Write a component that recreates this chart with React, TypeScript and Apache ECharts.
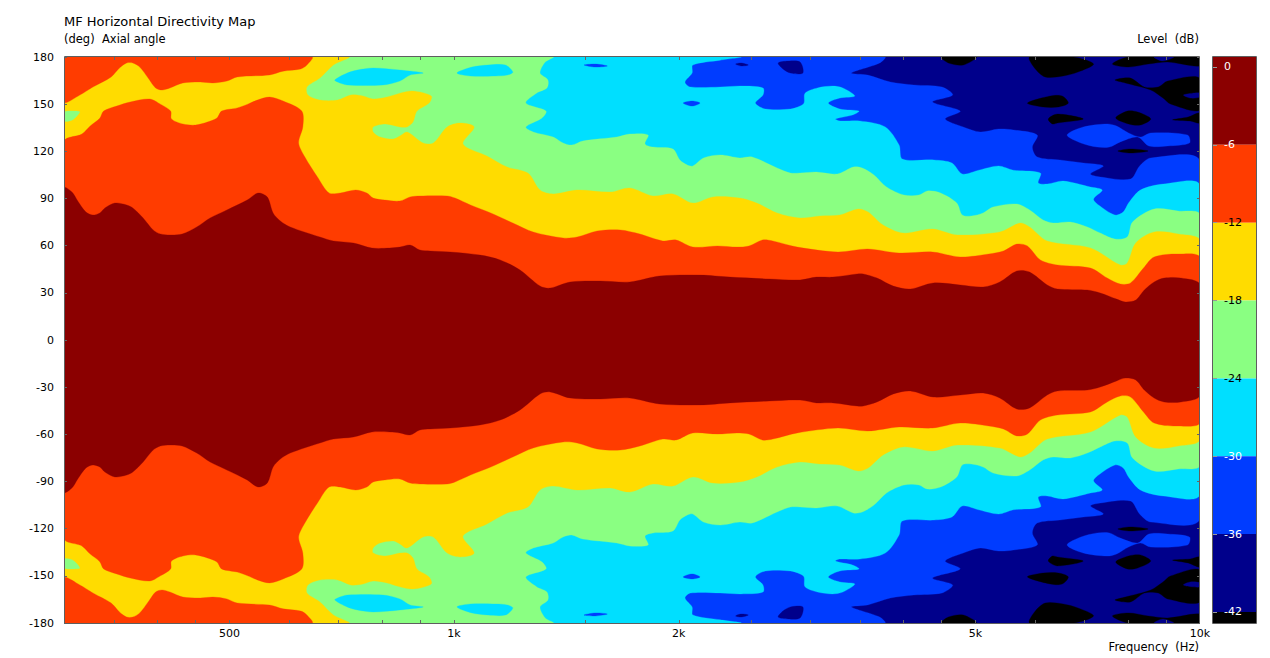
import React, { useEffect, useRef } from "react";
import * as echarts from "echarts";

type P = [number, number];

const C_RED = "#8b0000", C_ORANGE = "#ff3c00", C_GOLD = "#ffdc00", C_GREEN = "#8aff82",
  C_CYAN = "#00dfff", C_BLUE = "#003cff", C_NAVY = "#00008b", C_BLACK = "#000000";

const FONT = '"DejaVu Sans"';
const ANGLE_MIN = -180, ANGLE_MAX = 180;
const FREQ_MIN = 300, FREQ_MAX = 10000;

const freqTicks = [350, 400, 450, 500, 600, 700, 800, 900, 1000, 1500, 2000, 2500, 3000, 3500, 4000, 4500, 5000, 6000, 7000, 8000, 9000];
const freqLabelValues = [500, 1000, 2000, 5000, 10000];
const freqLabelTexts = ["500", "1k", "2k", "5k", "10k"];

const levelTicks = [0, -6, -12, -18, -24, -30, -36, -42];
const barLevels = [0.77, -6, -12, -18, -24, -30, -36, -42, -42.85];
const barColors = [C_RED, C_ORANGE, C_GOLD, C_GREEN, C_CYAN, C_BLUE, C_NAVY, C_BLACK];

// Contours of the upper half (Hz, degrees); the map is mirrored about 0 degrees.
const contour6: P[] = [[300,96.7],[307.5,94.1],[313,88.4],[321,81.4],[328,79.5],[335,80.8],[340.4,84],[351,87.1],[364,85.9],[371,84],[383,77.6],[395,70],[404,67.4],[416,66.8],[432,67.4],[452,71.9],[471,77.6],[496,82.7],[528,89],[546,93.5],[562,90.9],[572,80.8],[585,75.7],[603,71.9],[661,65.5],[689,63],[733,61.7],[776,58.5],[820,58.5],[846,59.1],[873,60.4],[900,57.2],[929,56.6],[988,56],[1084,54],[1153,50.9],[1226,44.5],[1304,34.3],[1345,33],[1431,36.9],[1570,37.5],[1720,36.9],[1885,40.7],[2137,41.3],[2344,40],[2646,38.8],[2910,38.2],[3060,40],[3220,40],[3470,42],[3536,42],[3690,39.4],[3880,34.3],[4090,32.4],[4390,36.3],[4770,35],[5120,33.7],[5390,36.9],[5680,43.9],[5910,43.2],[6240,35],[6440,32.4],[7060,31.8],[7350,29.9],[7730,26],[7940,24.2],[8200,25.4],[8420,31.8],[8680,36.9],[8950,39.4],[9430,39.4],[10000,35]];

const contour12: P[] = [[300,126],[317,131],[325,136],[335,141],[339,145.6],[353,148.8],[368,151.4],[391,153.3],[404,150],[417,145.6],[418,140.6],[433,137.4],[450,136.7],[467,138.6],[481,141.2],[488,145.6],[512,147.6],[529,150],[545,152.6],[566,154.5],[590,152],[625,145.6],[627,135.5],[619,125.3],[631,116.4],[656,103.7],[680,93.5],[704,93.5],[738,95.4],[764,93.5],[779,90.3],[808,89],[846,88.4],[873,91],[900,91.6],[979,91.6],[1003,90.3],[1052,85.9],[1120,80.8],[1199,74.4],[1277,68.7],[1400,64.9],[1462,65.5],[1555,69.3],[1670,70],[1775,67.4],[1905,63],[1985,63.6],[2090,59.1],[2255,59.8],[2395,59.1],[2485,59.8],[2590,63.6],[2675,63],[2885,59.1],[3270,56],[3585,57.9],[3950,55.3],[4380,56],[4770,52.8],[5210,54.7],[5450,56.6],[5680,61],[5870,59.8],[6110,50.9],[6440,47.7],[7130,45.8],[7510,39.4],[7820,35.6],[8070,36.3],[8400,45.8],[8680,52.8],[9350,54.7],[10000,52.2]];

const rearLobe12: P[] = [[300,180],[300,151.4],[315,155.8],[328,160.9],[347,167.3],[356,173],[364,176.2],[371,176.2],[379,173.6],[389,166.6],[398,160.3],[406,159],[416,160.3],[433,163.5],[457,164.1],[475,163.5],[496,164.7],[512,167.3],[566,168.6],[590,171],[623,172.4],[635,174.9],[645,180]];

const contour18: P[] = [[300,180],[722,180],[689,174.9],[661,166.6],[635,160.9],[637,155.8],[661,152.6],[698,152.6],[727,155.8],[755,155.2],[779,153.3],[813,154.5],[846,157],[881,158.4],[932,155.2],[926,150.7],[892,145.6],[881,138.6],[865,135.5],[846,135.5],[809,137.4],[779,135.5],[779,132.3],[796,129.1],[829,127.8],[846,129.7],[865,132.3],[909,125.3],[938,125.3],[979,135.5],[1019,138],[1064,135.5],[1028,124.7],[1107,117],[1178,110],[1256,106.2],[1304,95.4],[1358,92.9],[1462,95.4],[1620,94.1],[1720,96.7],[1848,91.6],[1965,92.9],[2090,87.1],[2225,91],[2415,90.3],[2545,87.1],[2710,80.8],[2910,77.6],[3095,78.9],[3290,79.5],[3480,83.3],[3590,81.4],[3760,73.1],[4000,68],[4380,70.6],[4730,66.8],[5390,68.7],[5740,74.4],[5910,71.9],[6240,63],[7130,58.5],[7820,47.7],[7990,49],[8200,61.7],[8680,68.7],[9350,67.4],[10000,63]];

const greenIslet: P[] = [[300,145],[310,145.6],[315,145],[308,140],[300,139.3]];

const contour24: P[] = [[300,180],[1358,180],[1325,176.8],[1304,169.8],[1336,165.4],[1332,160.3],[1291,157.1],[1248,150.7],[1328,145.6],[1312,141.2],[1248,135.5],[1277,132.3],[1358,129.1],[1400,125.3],[1438,124],[1488,126.6],[1653,129.1],[1720,131],[1820,130.4],[1803,124.7],[1848,122.7],[1965,121.5],[2008,114.5],[2055,111.3],[2090,110.7],[2160,115.8],[2275,117.7],[2415,115.8],[2510,116.4],[2710,109.4],[2825,106.2],[2910,106.2],[3060,106.8],[3265,105.6],[3430,110],[3525,109.4],[3655,105],[3800,97.3],[4010,92.2],[4200,92.2],[4310,94.8],[4490,93.5],[4720,87.1],[4800,79.5],[4940,78.9],[5120,80.8],[5280,84.6],[5680,86.5],[5910,82.7],[6160,76.3],[6360,74.4],[6700,75],[7060,71.9],[7350,68],[7690,64.2],[7990,65.5],[8120,75],[8680,83.3],[9350,82],[10000,79.5]];

const cyanIsland1: P[] = [[692,165.4],[719,169.8],[742,171.7],[779,173],[846,171.7],[909,169.8],[873,168.5],[846,164.7],[803,162.2],[719,162.2],[698,164.1]];
const cyanIsland2: P[] = [[1009,169.8],[1057,173.6],[1110,174.9],[1172,174.9],[1199,170.4],[1178,168.5],[1137,167.9],[1052,167.9]];

const contour30: P[] = [[300,180],[2420,180],[2275,178],[2090,174.9],[2085,169.8],[2040,164.1],[2075,160.9],[2275,160.9],[2425,161.5],[2595,160.3],[2595,155.8],[2535,150.7],[2615,146.9],[2825,146.9],[2910,148.8],[2946,150.7],[2955,157],[3070,160.3],[3215,161.5],[3320,160.3],[3445,155.2],[3290,153.9],[3175,150.7],[3290,146.9],[3490,145.6],[3420,143.1],[3245,140.6],[3290,139.3],[3500,139.3],[3785,135.5],[3950,124],[3990,115.1],[4400,114.5],[4650,112.6],[4800,105.6],[5050,108],[5370,110.7],[5620,108],[6110,106.2],[6070,99.9],[6240,99.2],[6555,101.1],[7130,97.3],[7395,95.4],[7200,89.7],[7310,85.9],[7690,79.5],[7890,81.4],[8020,87.1],[8320,95.4],[8930,99.2],[10000,98]];

const blueIsland1: P[] = [[1494,174.9],[1547,175.5],[1605,174.3],[1547,173.6]];
const blueIsland2: P[] = [[2028,150.7],[2085,152],[2137,150.7],[2085,148.8]];

const contour36: P[] = [[300,180],[3780,180],[3720,176.2],[3410,169.8],[3585,168.5],[3845,164.1],[4135,162.2],[4510,160.9],[4660,155.8],[4380,151.4],[4770,145.6],[4555,140.6],[4815,135.5],[5075,132.3],[5370,134.2],[5620,133.6],[6050,130.4],[5960,122.7],[6050,116.4],[6490,114.5],[6975,112.6],[7420,110.7],[7130,105.6],[7350,103.7],[8070,102.4],[8300,110.7],[8590,115.8],[10000,113.2]];

const navyIsland1: P[] = [[2720,176.2],[2805,177.4],[2910,176.8],[2935,169.8],[2825,169.8],[2760,172.4]];
const navyIsland2: P[] = [[2385,175.5],[2425,176.2],[2480,174.9],[2425,174.3]];
const navyOnBlack1: P[] = [[8680,180],[8920,177.4],[9220,180]];
const navyOnBlack2: P[] = [[9500,155.8],[9770,157],[10000,157],[10000,154.5],[9700,153.9]];
const blueIsland3: P[] = [[6635,130.4],[6975,135.5],[7510,137.4],[7730,136.1],[8020,131.7],[8320,129.1],[8590,131.7],[9620,130.4],[9680,125.3],[9050,123.4],[8540,123.4],[8250,129.1],[7820,126],[7560,122.7],[7280,122.7],[6925,125.3]];

const blackA: P[] = [[4500,180],[4600,176.2],[4815,174.9],[5015,180]];
const blackB: P[] = [[5910,180],[6000,173],[6200,167.3],[6555,167.9],[6860,170.4],[7200,175.5],[6770,180]];
const blackC: P[] = [[7630,175.5],[8020,180],[10000,180],[10000,174.3],[9050,176.8],[8520,175.5],[8020,173.6]];
const blackD: P[] = [[7690,165.4],[8070,166.6],[8420,160.9],[8790,160.9],[9050,164.7],[10000,166.6],[10000,146.3],[9130,150.1],[8920,153.9],[8590,159],[7940,163.5]];
const blackE: P[] = [[5870,150.7],[6300,155.2],[6535,155.2],[6660,150.7],[6460,148.2],[6160,148.2]];
const blackF: P[] = [[6260,140.6],[6440,143.7],[6975,140.6],[6440,138],[6340,137.4]];
const blackG: P[] = [[7710,141.2],[7990,145.6],[8250,145],[8590,140.6],[8320,136.7],[8020,137.4]];
const blackH: P[] = [[9190,140],[9640,141.8],[10000,144.4],[10000,138],[9700,139.3]];
const blackI: P[] = [[7760,120.2],[8070,121.5],[8520,120.2],[8070,118.9]];

const fullPlot: P[] = [[300,180],[10000,180]];

// A band: the contour, then its mirror image walked back, so that it spans 0 degrees.
const band = (path: P[], color: string) => ({
  color,
  pts: [...path, ...path.slice().reverse().map(([f, a]) => [f, -a] as P)],
});
// An island: one polygon above 0 degrees and its mirror image below.
const islands = (path: P[], color: string) => [
  { color, pts: path },
  { color, pts: path.map(([f, a]) => [f, -a] as P) },
];

const regions = [
  band(fullPlot, C_NAVY),
  ...[blackA, blackB, blackC, blackD, blackE, blackF, blackG, blackH, blackI].flatMap((p) => islands(p, C_BLACK)),
  ...[navyOnBlack1, navyOnBlack2].flatMap((p) => islands(p, C_NAVY)),
  band(contour36, C_BLUE),
  ...[navyIsland1, navyIsland2].flatMap((p) => islands(p, C_NAVY)),
  ...islands(blueIsland3, C_BLUE),
  band(contour30, C_CYAN),
  ...[blueIsland1, blueIsland2].flatMap((p) => islands(p, C_BLUE)),
  band(contour24, C_GREEN),
  ...[cyanIsland1, cyanIsland2].flatMap((p) => islands(p, C_CYAN)),
  band(contour18, C_GOLD),
  ...islands(greenIslet, C_GREEN),
  band(contour12, C_ORANGE),
  ...islands(rearLobe12, C_ORANGE),
  band(contour6, C_RED),
];

export default function App() {
  const ref = useRef<HTMLDivElement>(null);
  useEffect(() => {
    const chart = echarts.init(ref.current!, undefined, { renderer: "svg" });
    const txt = (x: number, y: number, text: string, size: number, align = "left") => ({
      type: "text", x, y, silent: true, z: 100,
      style: { text, fill: "#000", font: `${size}px ${FONT}`, align, verticalAlign: "middle" },
    });
    chart.setOption({
      animation: false,
      backgroundColor: "#ffffff",
      textStyle: { fontFamily: FONT },
      grid: [
        { left: 64, top: 57, width: 1136, height: 566 },
        { left: 1213, top: 57, width: 43, height: 566 },
      ],
      xAxis: [
        { type: "log", logBase: 10, gridIndex: 0, min: FREQ_MIN, max: FREQ_MAX, axisLine: { show: false }, axisTick: { show: false }, axisLabel: { show: false }, splitLine: { show: false }, minorTick: { show: false }, minorSplitLine: { show: false } },
        { type: "value", gridIndex: 1, min: 0, max: 1, show: false },
      ],
      yAxis: [
        {
          type: "value", gridIndex: 0, min: ANGLE_MIN, max: ANGLE_MAX, interval: 30, z: 10,
          axisLine: { show: false },
          axisTick: { show: true, inside: true, length: 3, lineStyle: { color: "#666" } },
          axisLabel: { color: "#000", fontSize: 11, fontFamily: FONT, margin: 10 },
          splitLine: { show: false },
        },
        {
          type: "value", gridIndex: 0, position: "right", min: ANGLE_MIN, max: ANGLE_MAX, interval: 30, z: 10,
          axisLine: { show: false },
          axisTick: { show: true, inside: true, length: 3, lineStyle: { color: "#666" } },
          axisLabel: { show: false },
          splitLine: { show: false },
        },
        {
          type: "value", gridIndex: 1, min: barLevels[barLevels.length - 1], max: barLevels[0], z: 10,
          axisLine: { show: false },
          axisTick: { show: true, inside: true, length: 4, customValues: levelTicks, lineStyle: { color: "#999" } },
          axisLabel: {
            show: true, inside: true, margin: 11, customValues: levelTicks, align: "left", fontSize: 11, fontFamily: FONT,
            color: (v: any) => (Number(v) <= -12 && Number(v) >= -24 ? "#000" : "#fff"),
          },
          splitLine: { show: false },
        },
      ],
      series: [
        {
          type: "custom", xAxisIndex: 0, yAxisIndex: 0, clip: true, silent: true, z: 2,
          data: regions.map((r) => r.pts[0]),
          renderItem: (params: any, api: any) => {
            const r = regions[params.dataIndex];
            return {
              type: "polygon",
              shape: { points: r.pts.map((p) => api.coord(p)), smooth: 0.3 },
              style: { fill: r.color, stroke: r.color, lineWidth: 0.3 },
            };
          },
        },
        {
          type: "custom", xAxisIndex: 0, yAxisIndex: 0, silent: true, z: 5,
          data: freqTicks.map((f) => [f, ANGLE_MAX]),
          renderItem: (_p: any, api: any) => {
            const t = api.coord([api.value(0), ANGLE_MAX]);
            const b = api.coord([api.value(0), ANGLE_MIN]);
            const st = { stroke: "#666", lineWidth: 1 };
            const x = Math.round(t[0]) + 0.5;
            return {
              type: "group",
              children: [
                { type: "line", shape: { x1: x, y1: t[1], x2: x, y2: t[1] + 3 }, style: st },
                { type: "line", shape: { x1: x, y1: b[1], x2: x, y2: b[1] - 3 }, style: st },
              ],
            };
          },
        },
        {
          type: "custom", xAxisIndex: 0, yAxisIndex: 0, silent: true, z: 5,
          data: freqLabelValues.map((f) => [f, ANGLE_MIN]),
          renderItem: (params: any, api: any) => {
            const b = api.coord([api.value(0), ANGLE_MIN]);
            return {
              type: "text", x: b[0], y: b[1] + 10,
              style: { text: freqLabelTexts[params.dataIndex], fill: "#000", font: `11px ${FONT}`, align: "center", verticalAlign: "middle" },
            };
          },
        },
        {
          type: "custom", xAxisIndex: 1, yAxisIndex: 2, silent: true, z: 2,
          data: barColors.map((_c, i) => [0, barLevels[i]]),
          renderItem: (params: any, api: any) => {
            const i = params.dataIndex;
            const a = api.coord([0, barLevels[i]]);
            const b = api.coord([1, barLevels[i + 1]]);
            return {
              type: "rect",
              shape: { x: a[0], y: a[1], width: b[0] - a[0], height: b[1] - a[1] },
              style: { fill: barColors[i] },
            };
          },
        },
      ],
      graphic: [
        txt(64, 21, "MF Horizontal Directivity Map", 13),
        txt(64, 39, "(deg)  Axial angle", 11.5),
        txt(1199, 39, "Level  (dB)", 11.5, "right"),
        txt(1199, 647, "Frequency  (Hz)", 11.5, "right"),
        { type: "rect", silent: true, z: 100, shape: { x: 64.5, y: 56.5, width: 1135, height: 567 }, style: { fill: "none", stroke: "#5f5f5f", lineWidth: 1 } },
        { type: "rect", silent: true, z: 100, shape: { x: 1212.5, y: 56.5, width: 44, height: 567 }, style: { fill: "none", stroke: "#5f5f5f", lineWidth: 1 } },
      ],
    });
    return () => chart.dispose();
  }, []);
  return <div ref={ref} style={{ position: "fixed", left: 0, top: 0, width: 1270, height: 658 }} />;
}
